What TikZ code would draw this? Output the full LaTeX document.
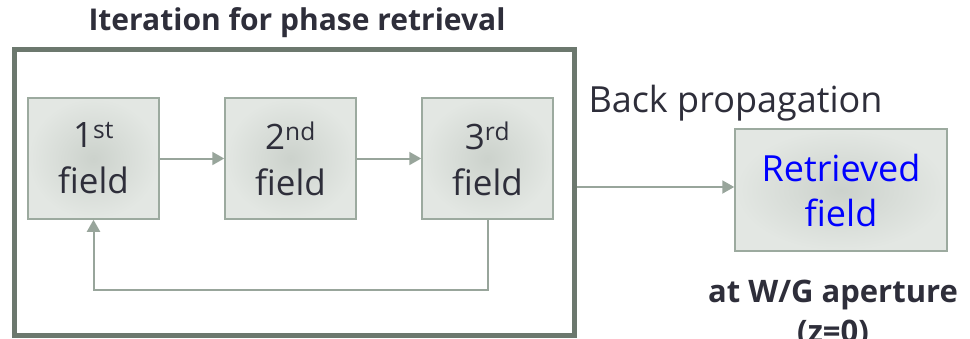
\documentclass[tikz,border=0pt]{standalone}
\usepackage{fontspec}
\setmainfont{Open Sans}
\usetikzlibrary{arrows.meta}
\definecolor{txt}{HTML}{2E2E3A}
\definecolor{boxline}{HTML}{9CAA9F}
\definecolor{arr}{HTML}{98A59B}
\definecolor{frame}{HTML}{6C786E}
\definecolor{inner}{HTML}{CCD2CC}
\definecolor{outer}{HTML}{E3E7E3}
\tikzset{
  fieldbox/.style={draw=boxline, line width=1.5pt, inner color=inner, outer color=outer,
    minimum width=131pt, minimum height=121pt, align=center, text=txt,
    font=\fontsize{35}{46}\selectfont, inner sep=0pt},
  conn/.style={draw=arr, line width=2pt, -{Triangle[length=12pt,width=13pt]}},
  lbl/.style={text=txt, anchor=base}
}
\begin{document}
\begin{tikzpicture}[x=1pt,y=-1pt]
\useasboundingbox (0,0) rectangle (970,338);
\draw[frame, line width=5pt] (14.5,49) rectangle (574.5,335);
\node[lbl, font=\fontsize{30}{32}\selectfont\bfseries] (title) at (297,30) {Iteration for phase retrieval};
\node[fieldbox] (n1) at (93.5,158.5) {1\textsuperscript{st}\\field};
\node[fieldbox] (n2) at (290.5,158.5) {2\textsuperscript{nd}\\field};
\node[fieldbox] (n3) at (487.5,158.5) {3\textsuperscript{rd}\\field};
\node[fieldbox, minimum width=212pt, minimum height=122pt, text=blue, font=\fontsize{36}{45}\selectfont] (n4) at (841,190) {Retrieved\\field};
\node[lbl, font=\fontsize{36}{40}\selectfont] (bp) at (735.5,112) {Back propagation};
\node[lbl, font=\fontsize{31}{36}\selectfont\bfseries] (wg1) at (833,302) {at W/G aperture};
\node[lbl, font=\fontsize{31}{36}\selectfont\bfseries] (wg2) at (833,342) {(z=0)};
\coordinate (fr) at (577,187);
\draw[conn] (n1.east) -- (n2.west);
\draw[conn] (n2.east) -- (n3.west);
\draw[conn] (fr) -- (n4.west |- fr);
\draw[conn] (n3.south) -- ++(0,70) -| (n1.south);
\end{tikzpicture}
\end{document}
